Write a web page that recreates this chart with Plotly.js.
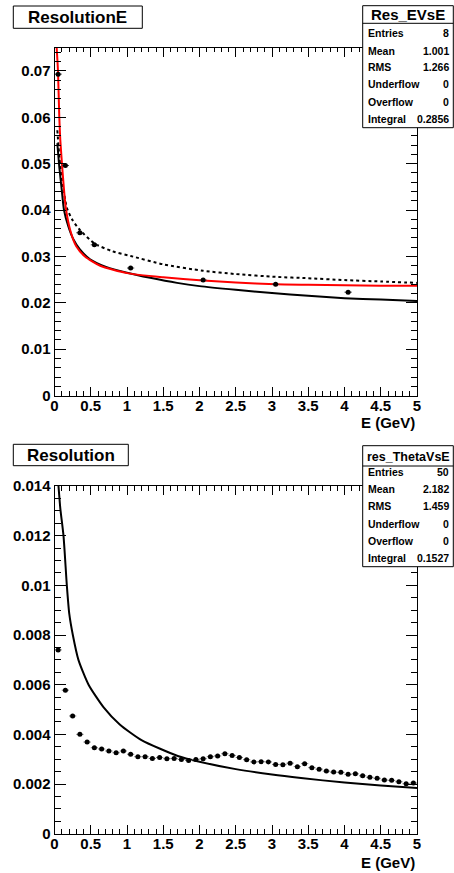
<!DOCTYPE html>
<html>
<head>
<meta charset="utf-8">
<script src="https://cdn.plot.ly/plotly-3.0.1.min.js"></script>
<style>html,body{margin:0;padding:0;background:#fff;}#chart{width:454px;height:873px;}</style>
</head>
<body>
<div id="chart"></div>
<script>
// ---------- DATA ----------
// Top panel: ResolutionE (Res_EVsE)
const resE_energy = [0.05, 0.15, 0.35, 0.55, 1.05, 2.05, 3.05, 4.05];
const resE_value  = [0.0693, 0.0496, 0.0351, 0.0325, 0.0275, 0.0249, 0.0240, 0.0223];

// black solid curve (top)
const curveA_E = [0.039, 0.066, 0.099, 0.131, 0.19, 0.26, 0.35, 0.49, 0.72, 1.0, 1.32, 1.69, 2.0, 2.5, 3.0, 3.5, 4.0, 4.5, 5.0];
const curveA_v = [0.0544, 0.0493, 0.0445, 0.0400, 0.0365, 0.0337, 0.0315, 0.0294, 0.0277, 0.0265, 0.0254, 0.0243, 0.0236, 0.0228, 0.0221, 0.0215, 0.0210, 0.0207, 0.0204];

// black dotted curve (top)
const curveB_E = [0.039, 0.07, 0.1, 0.17, 0.25, 0.35, 0.55, 0.8, 1.05, 1.5, 2.05, 2.5, 3.05, 3.5, 4.0, 4.5, 5.0];
const curveB_v = [0.0572, 0.0510, 0.0470, 0.0405, 0.0378, 0.0357, 0.0328, 0.0311, 0.0301, 0.0283, 0.0269, 0.0262, 0.0256, 0.0253, 0.0249, 0.0246, 0.0243];

// red fit curve (top)
const curveC_E = [0.03, 0.048, 0.066, 0.08, 0.113, 0.154, 0.22, 0.30, 0.42, 0.63, 1.0, 1.5, 2.05, 2.5, 3.05, 3.5, 4.0, 4.5, 5.0];
const curveC_v = [0.0750, 0.0700, 0.0600, 0.0551, 0.0479, 0.0407, 0.0355, 0.0322, 0.0300, 0.0280, 0.0264, 0.0255, 0.0248, 0.0244, 0.0240, 0.0239, 0.0238, 0.0237, 0.0237];

// Bottom panel: Resolution (res_ThetaVsE)
const resTheta_energy = [0.05,0.15,0.25,0.35,0.45,0.55,0.65,0.75,0.85,0.95,
                         1.05,1.15,1.25,1.35,1.45,1.55,1.65,1.75,1.85,1.95,
                         2.05,2.15,2.25,2.35,2.45,2.55,2.65,2.75,2.85,2.95,
                         3.05,3.15,3.25,3.35,3.45,3.55,3.65,3.75,3.85,3.95,
                         4.05,4.15,4.25,4.35,4.45,4.55,4.65,4.75,4.85,4.95];
const resTheta_value  = [0.0074,0.00578,0.00474,0.0040,0.00369,0.00346,0.00341,0.00333,0.00326,0.00333,
                         0.00320,0.00310,0.00310,0.00303,0.00307,0.00302,0.00303,0.00299,0.00295,0.00299,
                         0.00302,0.00310,0.00313,0.00322,0.00315,0.00307,0.00298,0.00289,0.00290,0.00289,
                         0.00279,0.00278,0.00284,0.00270,0.00282,0.00266,0.00260,0.00252,0.00248,0.00247,
                         0.00239,0.00241,0.00233,0.00227,0.00223,0.00216,0.00215,0.00209,0.00201,0.00204];

// black solid curve (bottom)
const curveD_E = [0.055, 0.08, 0.124, 0.17, 0.203, 0.253, 0.33, 0.47, 0.675, 0.9, 1.2, 1.7, 2.0, 2.5, 3.0, 3.4, 4.0, 4.5, 5.0];
const curveD_v = [0.0140, 0.0131, 0.0120, 0.0100, 0.00887, 0.0080, 0.0070, 0.0060, 0.0051, 0.0044, 0.00377, 0.00313, 0.0029, 0.0026, 0.00238, 0.00224, 0.00206, 0.00194, 0.00184];

const xTitle = "E (GeV)";
const title1 = "ResolutionE", title2 = "Resolution";
const stats1Name = "Res_EVsE", stats2Name = "res_ThetaVsE";
const statLabels = ["Entries", "Mean", "RMS", "Underflow", "Overflow", "Integral"];
const stats1Values = ["8", "1.001", "1.266", "0", "0", "0.2856"];
const stats2Values = ["50", "2.182", "1.459", "0", "0", "0.1527"];

// ---------- LAYOUT ----------
const W = 454, H = 873;
const px = x => x / W;
const py = y => 1 - y / H;
const FONT = "Liberation Sans, Arial, Helvetica, sans-serif";

function mkX(anchor) {
  return {
    anchor: anchor, domain: [px(54.5), px(417)], range: [0, 5],
    tick0: 0, dtick: 0.5, ticks: "inside", ticklen: 9, tickwidth: 1, tickcolor: "#000",
    minor: {dtick: 0.1, ticks: "inside", ticklen: 4.5, tickwidth: 1, tickcolor: "#000"},
    showline: true, linecolor: "#000", linewidth: 1, mirror: "allticks",
    showgrid: false, zeroline: false, fixedrange: true, ticklabelstandoff: -4,
    tickfont: {family: FONT, size: 15, color: "#000", weight: "bold"}
  };
}
function mkY(anchor, dom, range, dtick, minor) {
  return {
    anchor: anchor, domain: dom, range: range,
    tick0: 0, dtick: dtick, ticks: "inside", ticklen: 11, tickwidth: 1, tickcolor: "#000",
    minor: {dtick: minor, ticks: "inside", ticklen: 6, tickwidth: 1, tickcolor: "#000"},
    showline: true, linecolor: "#000", linewidth: 1, mirror: "allticks",
    showgrid: false, zeroline: false, fixedrange: true,
    tickfont: {family: FONT, size: 15, color: "#000", weight: "bold"}
  };
}

const traces = [
  {x: curveB_E, y: curveB_v, xaxis: "x", yaxis: "y", mode: "lines", line: {color: "#000", width: 2, dash: "3px,3px", shape: "spline", smoothing: 0.6}},
  {x: curveA_E, y: curveA_v, xaxis: "x", yaxis: "y", mode: "lines", line: {color: "#000", width: 2, shape: "spline", smoothing: 0.6}},
  {x: curveC_E, y: curveC_v, xaxis: "x", yaxis: "y", mode: "lines", line: {color: "#ff0000", width: 2, shape: "spline", smoothing: 0.6}},
  {x: resE_energy, y: resE_value, xaxis: "x", yaxis: "y", mode: "markers",
   marker: {color: "#000", size: 5, symbol: "circle"},
   error_x: {type: "constant", value: 0.05, width: 0, thickness: 1, color: "#444"}},
  {x: curveD_E, y: curveD_v, xaxis: "x2", yaxis: "y2", mode: "lines", line: {color: "#000", width: 2, shape: "spline", smoothing: 0.6}},
  {x: resTheta_energy, y: resTheta_value, xaxis: "x2", yaxis: "y2", mode: "markers",
   marker: {color: "#000", size: 5, symbol: "circle"},
   error_x: {type: "constant", value: 0.05, width: 0, thickness: 1, color: "#777"}}
];

const shapes = [];
const annotations = [];
function rectPx(x0, y0, x1, y1) {
  shapes.push({type: "rect", xref: "paper", yref: "paper", x0: px(x0), x1: px(x1), y0: py(y1), y1: py(y0),
               line: {color: "#000", width: 1}, fillcolor: "#fff", layer: "above"});
}
function linePx(x0, y0, x1, y1) {
  shapes.push({type: "line", xref: "paper", yref: "paper", x0: px(x0), x1: px(x1), y0: py(y0), y1: py(y1),
               line: {color: "#000", width: 1}, layer: "above"});
}
function textPx(t, x, y, size, xanchor) {
  annotations.push({text: t, xref: "paper", yref: "paper", x: px(x), y: py(y), xanchor: xanchor, yanchor: "middle",
                    showarrow: false, font: {family: FONT, size: size, color: "#000", weight: "bold"}});
}

// title boxes
rectPx(13.3, 6, 142.3, 28.3);
textPx(title1, 77.8, 17.2, 17, "center");
rectPx(13.3, 444.3, 128.3, 465.7);
textPx(title2, 70.8, 455, 17, "center");

// stats boxes
function statsBox(y0, y1, sep, hdrY, name, hdrSize, rowYs, vals) {
  rectPx(362.7, y0, 453.3, y1);
  linePx(362.7, sep, 453.3, sep);
  textPx(name, 408, hdrY, hdrSize, "center");
  for (let i = 0; i < statLabels.length; i++) {
    textPx(statLabels[i], 365.5, rowYs[i], 10.5, "left");
    textPx(vals[i], 450.5, rowYs[i], 10.5, "right");
  }
}
statsBox(5.7, 127.7, 23.3, 14.8, stats1Name, 15, [33, 50.7, 67.3, 84.3, 102, 118.7], stats1Values);
statsBox(445.7, 566.7, 466, 456.5, stats2Name, 12.5, [471.7, 488.7, 506, 523.7, 541, 557.7], stats2Values);

// axis titles
textPx(xTitle, 417, 422, 15, "right");
textPx(xTitle, 417, 862, 15, "right");

const layout = {
  width: W, height: H, margin: {l: 0, r: 0, t: 0, b: 0},
  paper_bgcolor: "#fff", plot_bgcolor: "#fff", showlegend: false,
  xaxis: mkX("y"),
  yaxis: mkY("x", [py(395.6), py(47.7)], [0, 0.075], 0.01, 0.002),
  xaxis2: mkX("y2"),
  yaxis2: mkY("x2", [py(833.7), py(486)], [0, 0.014], 0.002, 0.0005),
  shapes: shapes, annotations: annotations
};

Plotly.newPlot("chart", traces, layout, {staticPlot: true, displayModeBar: false});
</script>
</body>
</html>
